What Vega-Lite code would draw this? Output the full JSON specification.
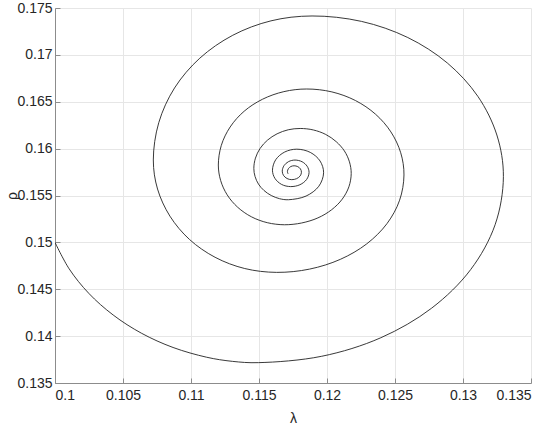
{
  "$schema": "https://vega.github.io/schema/vega-lite/v6.json",
  "width": 476,
  "height": 375,
  "autosize": {"type": "none"},
  "padding": {"left": 55, "top": 8, "right": 19, "bottom": 42},
  "background": "white",
  "config": {
    "view": {"stroke": null},
    "font": "Liberation Sans",
    "axis": {
      "labelFont": "Liberation Sans",
      "titleFont": "Liberation Sans",
      "labelFontSize": 14,
      "titleFontSize": 14,
      "titleFontWeight": "normal",
      "labelColor": "#262626",
      "titleColor": "#262626",
      "gridColor": "#e6e6e6",
      "gridWidth": 1,
      "domainColor": "#8c8c8c",
      "domainWidth": 1,
      "tickColor": "#8c8c8c",
      "tickSize": -5,
      "labelPadding": 8
    }
  },
  "data": {"values": [
    {"i":0,"lambda":0.1,"rho":0.15},
    {"i":1,"lambda":0.10104,"rho":0.14718},
    {"i":2,"lambda":0.10248,"rho":0.14457},
    {"i":3,"lambda":0.10428,"rho":0.14225},
    {"i":4,"lambda":0.10637,"rho":0.1403},
    {"i":5,"lambda":0.10868,"rho":0.13879},
    {"i":6,"lambda":0.11115,"rho":0.13775},
    {"i":7,"lambda":0.11304,"rho":0.13731},
    {"i":8,"lambda":0.11495,"rho":0.13717},
    {"i":9,"lambda":0.11961,"rho":0.13785},
    {"i":10,"lambda":0.12396,"rho":0.13983},
    {"i":11,"lambda":0.12769,"rho":0.14298},
    {"i":12,"lambda":0.13056,"rho":0.14709},
    {"i":13,"lambda":0.13236,"rho":0.15188},
    {"i":14,"lambda":0.13297,"rho":0.15701},
    {"i":15,"lambda":0.13249,"rho":0.16145},
    {"i":16,"lambda":0.13109,"rho":0.16558},
    {"i":17,"lambda":0.12885,"rho":0.16913},
    {"i":18,"lambda":0.12594,"rho":0.17185},
    {"i":19,"lambda":0.12254,"rho":0.17357},
    {"i":20,"lambda":0.1189,"rho":0.17415},
    {"i":21,"lambda":0.11588,"rho":0.17363},
    {"i":22,"lambda":0.11307,"rho":0.17209},
    {"i":23,"lambda":0.11065,"rho":0.16965},
    {"i":24,"lambda":0.10879,"rho":0.16647},
    {"i":25,"lambda":0.10763,"rho":0.16277},
    {"i":26,"lambda":0.10723,"rho":0.15879},
    {"i":27,"lambda":0.10754,"rho":0.15569},
    {"i":28,"lambda":0.10845,"rho":0.1528},
    {"i":29,"lambda":0.10989,"rho":0.15031},
    {"i":30,"lambda":0.11177,"rho":0.14841},
    {"i":31,"lambda":0.11395,"rho":0.14721},
    {"i":32,"lambda":0.1163,"rho":0.1468},
    {"i":33,"lambda":0.11872,"rho":0.14715},
    {"i":34,"lambda":0.12098,"rho":0.14819},
    {"i":35,"lambda":0.12292,"rho":0.14984},
    {"i":36,"lambda":0.12441,"rho":0.152},
    {"i":37,"lambda":0.12534,"rho":0.1545},
    {"i":38,"lambda":0.12566,"rho":0.15719},
    {"i":39,"lambda":0.12542,"rho":0.15956},
    {"i":40,"lambda":0.1247,"rho":0.16178},
    {"i":41,"lambda":0.12357,"rho":0.16367},
    {"i":42,"lambda":0.12209,"rho":0.16513},
    {"i":43,"lambda":0.12036,"rho":0.16605},
    {"i":44,"lambda":0.11851,"rho":0.16636},
    {"i":45,"lambda":0.11683,"rho":0.16608},
    {"i":46,"lambda":0.11526,"rho":0.16527},
    {"i":47,"lambda":0.11391,"rho":0.16399},
    {"i":48,"lambda":0.11288,"rho":0.16231},
    {"i":49,"lambda":0.11223,"rho":0.16035},
    {"i":50,"lambda":0.11201,"rho":0.15825},
    {"i":51,"lambda":0.11218,"rho":0.1566},
    {"i":52,"lambda":0.11266,"rho":0.15507},
    {"i":53,"lambda":0.11343,"rho":0.15375},
    {"i":54,"lambda":0.11444,"rho":0.15273},
    {"i":55,"lambda":0.11561,"rho":0.1521},
    {"i":56,"lambda":0.11687,"rho":0.15188},
    {"i":57,"lambda":0.11814,"rho":0.15207},
    {"i":58,"lambda":0.11933,"rho":0.15261},
    {"i":59,"lambda":0.12034,"rho":0.15348},
    {"i":60,"lambda":0.12112,"rho":0.15461},
    {"i":61,"lambda":0.12161,"rho":0.15593},
    {"i":62,"lambda":0.12178,"rho":0.15734},
    {"i":63,"lambda":0.12165,"rho":0.15859},
    {"i":64,"lambda":0.12128,"rho":0.15975},
    {"i":65,"lambda":0.12068,"rho":0.16074},
    {"i":66,"lambda":0.11991,"rho":0.16151},
    {"i":67,"lambda":0.119,"rho":0.16199},
    {"i":68,"lambda":0.11803,"rho":0.16215},
    {"i":69,"lambda":0.11715,"rho":0.16201},
    {"i":70,"lambda":0.11633,"rho":0.16158},
    {"i":71,"lambda":0.11562,"rho":0.1609},
    {"i":72,"lambda":0.11508,"rho":0.16002},
    {"i":73,"lambda":0.11474,"rho":0.15899},
    {"i":74,"lambda":0.11462,"rho":0.15789},
    {"i":75,"lambda":0.11471,"rho":0.15703},
    {"i":76,"lambda":0.11496,"rho":0.15622},
    {"i":77,"lambda":0.11537,"rho":0.15553},
    {"i":78,"lambda":0.1159,"rho":0.155},
    {"i":79,"lambda":0.11651,"rho":0.15466},
    {"i":80,"lambda":0.11717,"rho":0.15455},
    {"i":81,"lambda":0.11846,"rho":0.15494},
    {"i":82,"lambda":0.1194,"rho":0.15599},
    {"i":83,"lambda":0.11975,"rho":0.15742},
    {"i":84,"lambda":0.11949,"rho":0.15868},
    {"i":85,"lambda":0.11877,"rho":0.1596},
    {"i":86,"lambda":0.11778,"rho":0.15994},
    {"i":87,"lambda":0.11689,"rho":0.15964},
    {"i":88,"lambda":0.11623,"rho":0.15882},
    {"i":89,"lambda":0.11599,"rho":0.1577},
    {"i":90,"lambda":0.11617,"rho":0.15683},
    {"i":91,"lambda":0.11666,"rho":0.15618},
    {"i":92,"lambda":0.11733,"rho":0.15595},
    {"i":93,"lambda":0.11801,"rho":0.15615},
    {"i":94,"lambda":0.1185,"rho":0.15671},
    {"i":95,"lambda":0.11868,"rho":0.15746},
    {"i":96,"lambda":0.11854,"rho":0.15812},
    {"i":97,"lambda":0.11817,"rho":0.1586},
    {"i":98,"lambda":0.11765,"rho":0.15878},
    {"i":99,"lambda":0.11718,"rho":0.15862},
    {"i":100,"lambda":0.11684,"rho":0.15819},
    {"i":101,"lambda":0.11671,"rho":0.1576},
    {"i":102,"lambda":0.1168,"rho":0.15715},
    {"i":103,"lambda":0.11706,"rho":0.15681},
    {"i":104,"lambda":0.11741,"rho":0.15669},
    {"i":105,"lambda":0.11777,"rho":0.1568},
    {"i":106,"lambda":0.11803,"rho":0.15709},
    {"i":107,"lambda":0.11812,"rho":0.15748},
    {"i":108,"lambda":0.11805,"rho":0.15783},
    {"i":109,"lambda":0.11785,"rho":0.15808},
    {"i":110,"lambda":0.11758,"rho":0.15817},
    {"i":111,"lambda":0.11734,"rho":0.15809},
    {"i":112,"lambda":0.11716,"rho":0.15786},
    {"i":113,"lambda":0.11709,"rho":0.15755},
    {"i":114,"lambda":0.11714,"rho":0.15731}
  ]},
  "mark": {"type": "line", "interpolate": "catmull-rom", "color": "#222222", "strokeWidth": 0.9, "clip": true},
  "encoding": {
    "order": {"field": "i", "type": "quantitative"},
    "x": {
      "field": "lambda", "type": "quantitative",
      "scale": {"domain": [0.1, 0.135], "nice": false, "zero": false},
      "axis": {"title": "λ", "values": [0.1, 0.105, 0.11, 0.115, 0.12, 0.125, 0.13, 0.135], "format": "~g", "labelPadding": 10, "titlePadding": 9}
    },
    "y": {
      "field": "rho", "type": "quantitative",
      "scale": {"domain": [0.135, 0.175], "nice": false, "zero": false},
      "axis": {"title": "ρ", "values": [0.135, 0.14, 0.145, 0.15, 0.155, 0.16, 0.165, 0.17, 0.175], "format": "~g", "titleAngle": -90, "titleBaseline": "middle", "titleX": -43, "titleY": 187.5}
    }
  }
}
